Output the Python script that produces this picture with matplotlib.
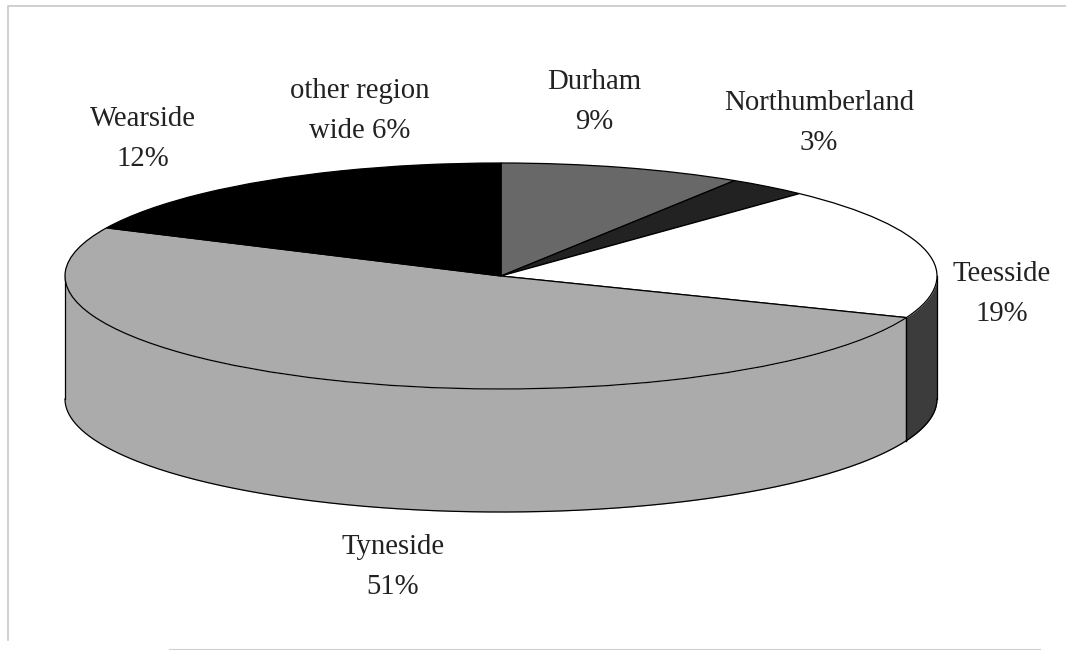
import matplotlib
matplotlib.use('Agg')
import matplotlib.pyplot as plt
import numpy as np

plt.rcParams['font.family'] = ['Liberation Serif', 'DejaVu Serif']

names = ['Durham', 'Northumberland', 'Teesside', 'Tyneside', 'Wearside', 'other region\nwide']
values = [9, 3, 19, 51, 12, 6]
colors = ['#686868', '#222222', '#ffffff', '#ababab', '#000000', '#000000']
wall_colors = ['#444444', '#111111', '#3c3c3c', '#ababab', '#000000', '#000000']

# label centres in pixels
label_x = [594, 819, 1002, 393, 143, 360]
label_y = [102, 123, 294, 567, 139, 111]

W, H = 1066, 650
cx, cy = 501, 276
rx, ry = 436, 113
depth = 123 / ry  # height of the cylinder wall, in pie radii

fig = plt.figure(figsize=(W / 100, H / 100), dpi=100)
ax = fig.add_axes([0, 0, 1, 1])

edge = '#000000'
ax.pie(values, colors=colors, startangle=90, counterclock=False, radius=1,
       wedgeprops=dict(edgecolor=edge, linewidth=0.9, zorder=3))

# stretch the unit circle into the tilted ellipse
ax.set_aspect('auto')
ax.set_xlim(-cx / rx, (W - cx) / rx)
ax.set_ylim(-(H - cy) / ry, cy / ry)
ax.axis('off')

# side wall: only the front half of the rim is visible
ends = np.cumsum(values) / np.sum(values) * 360
starts = ends - np.array(values) / np.sum(values) * 360
for a0, a1, c in zip(starts, ends, wall_colors):
    lo, hi = max(a0, 90), min(a1, 270)
    if hi <= lo:
        continue
    t = np.radians(np.linspace(lo, hi, 200))
    x = np.sin(t)
    y = np.cos(t)
    ax.fill_between(x, y, y - depth, color=c, linewidth=0, zorder=1)
    ax.plot(x, y - depth, color=edge, lw=0.9, zorder=2)
    ax.plot([x[0], x[0]], [y[0], y[0] - depth], color=edge, lw=0.9, zorder=2)
    ax.plot([x[-1], x[-1]], [y[-1], y[-1] - depth], color=edge, lw=0.9, zorder=2)

for n, v, lx, ly in zip(names, values, label_x, label_y):
    txt = f'{n} {v}%' if '\n' in n else f'{n}\n{v}%'
    ax.text((lx - cx) / rx, (cy - ly) / ry, txt, ha='center', va='center',
            fontsize=20.7, color='#222222', linespacing=1.68, zorder=5)

# thin grey border of the scanned chart area
fig.add_artist(plt.Line2D([8 / W, 8 / W, 1], [1 - 640 / H, 1 - 6 / H, 1 - 6 / H],
                          color='#c8c8c8', lw=1.2))
fig.add_artist(plt.Line2D([170 / W, 1040 / W], [0.5 / H, 0.5 / H], color='#d0d0d0', lw=1.5))

fig.savefig('out.png', dpi=100, facecolor='white')
